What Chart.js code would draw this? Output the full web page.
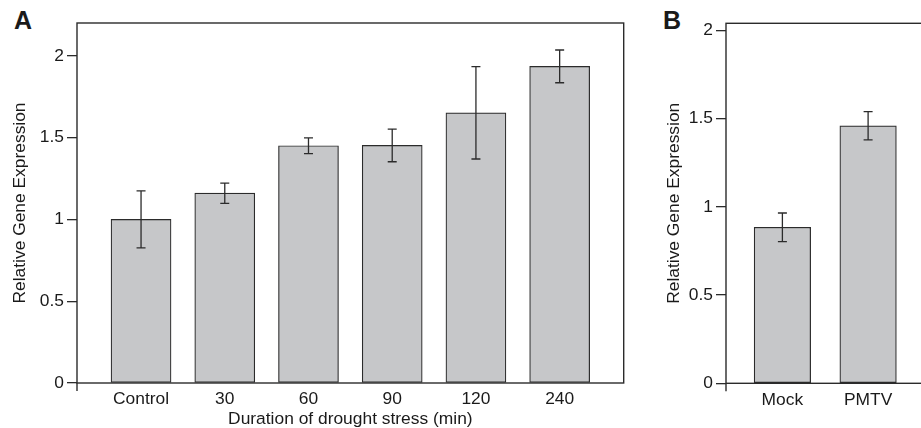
<!DOCTYPE html>
<html>
<head>
<meta charset="utf-8">
<script src="https://cdn.jsdelivr.net/npm/chart.js@4"></script>
<style>
    body { margin: 0; background: #fff; width: 921px; height: 428px; overflow: hidden; position: relative; }
    canvas { position: absolute; top: 0; }
    .panel { position: absolute; font: bold 25px "Liberation Sans", Arial, sans-serif; line-height: 25px; color: #1a1a1a; }
</style>
</head>
<body>
<div class="panel" style="left:14px; top:8px;">A</div>
<div class="panel" style="left:663px; top:8px;">B</div>
<canvas id="chartA" width="640" height="430" style="left:0px;"></canvas>
<canvas id="chartB" width="290" height="430" style="left:650px;"></canvas>
<script>
// panel A: drought stress time course
const categoriesA = ['Control', '30', '60', '90', '120', '240'];
const valuesA = [1.0, 1.16, 1.45, 1.452, 1.651, 1.935];
const errorsA = [0.174, 0.062, 0.048, 0.1, 0.282, 0.1];

// panel B: mock vs PMTV
const categoriesB = ['Mock', 'PMTV'];
const valuesB = [0.884, 1.459];
const errorsB = [0.081, 0.08];

const yTicks = [0, 0.5, 1, 1.5, 2];

const FONT = '"Liberation Sans", Arial, sans-serif';
const INK = '#2b2b2b';

// box around the plot, little stub under the y axis, and error bars
const framePlugin = {
    id: 'frame',
    afterDatasetsDraw(chart, args, opts) {
        const {ctx, chartArea, scales: {x, y}} = chart;
        ctx.save();
        ctx.strokeStyle = INK;
        ctx.lineWidth = 1.4;
        ctx.strokeRect(chartArea.left, chartArea.top, chartArea.right - chartArea.left, chartArea.bottom - chartArea.top);
        ctx.beginPath();
        ctx.moveTo(chartArea.left, chartArea.bottom);
        ctx.lineTo(chartArea.left, chartArea.bottom + 8);
        ctx.stroke();

        ctx.lineWidth = 1.3;
        opts.values.forEach((v, i) => {
            const px = x.getPixelForValue(i);
            const top = y.getPixelForValue(v + opts.errors[i]);
            const bot = y.getPixelForValue(v - opts.errors[i]);
            ctx.beginPath();
            ctx.moveTo(px, top);
            ctx.lineTo(px, bot);
            ctx.moveTo(px - 4.5, top);
            ctx.lineTo(px + 4.5, top);
            ctx.moveTo(px - 4.5, bot);
            ctx.lineTo(px + 4.5, bot);
            ctx.stroke();
        });
        ctx.restore();
    }
};

function makeChart(id, cats, values, errors, cfg) {
    const ctx = document.getElementById(id);
    return new Chart(ctx, {
        type: 'bar',
        data: {
            datasets: [{
                data: values.map((v, i) => ({x: i, y: v})),
                backgroundColor: '#c6c7c9',
                borderColor: INK,
                borderWidth: 1.2,
                borderSkipped: false,
                barThickness: cfg.barWidth
            }]
        },
        options: {
            responsive: false,
            animation: false,
            layout: { padding: cfg.padding },
            plugins: {
                legend: { display: false },
                tooltip: { enabled: false },
                frame: { values: values, errors: errors }
            },
            scales: {
                x: {
                    type: 'linear',
                    min: cfg.xMin,
                    max: cfg.xMax,
                    offset: false,
                    grid: { display: false, drawTicks: false, offset: false },
                    border: { display: false },
                    afterBuildTicks: (scale) => { scale.ticks = cats.map((c, i) => ({value: i})); },
                    afterFit: (scale) => { scale.height = cfg.xHeight; },
                    ticks: {
                        padding: 6,
                        color: '#1a1a1a',
                        font: { family: FONT, size: 17.4 },
                        callback: (v) => cats[v]
                    },
                    title: {
                        display: !!cfg.xTitle,
                        text: cfg.xTitle || '',
                        color: '#1a1a1a',
                        font: { family: FONT, size: 17.4 },
                        padding: 0
                    }
                },
                y: {
                    min: 0,
                    max: cfg.yMax,
                    grid: { drawOnChartArea: false, drawTicks: true, tickLength: 10, color: INK, lineWidth: 1.3 },
                    border: { display: false },
                    afterBuildTicks: (scale) => { scale.ticks = yTicks.map(v => ({value: v})); },
                    afterFit: (scale) => { scale.width = cfg.yWidth; },
                    ticks: {
                        padding: 3,
                        color: '#1a1a1a',
                        font: { family: FONT, size: 17.4 },
                        callback: (v) => String(v)
                    },
                    title: {
                        display: true,
                        text: 'Relative Gene Expression',
                        color: '#1a1a1a',
                        font: { family: FONT, size: 17.4 },
                        padding: { top: cfg.yTitlePad, bottom: 0 }
                    }
                }
            }
        },
        plugins: [framePlugin]
    });
}

makeChart('chartA', categoriesA, valuesA, errorsA, {
    barWidth: 60,
    padding: { left: 0, top: 23, right: 16.3, bottom: 0 },
    xMin: -0.765, xMax: 5.765,
    xHeight: 47,
    yMax: 2.2,
    yWidth: 77,
    yTitlePad: 10,
    xTitle: 'Duration of drought stress (min)'
});

makeChart('chartB', categoriesB, valuesB, errorsB, {
    barWidth: 56.5,
    padding: { left: 0, top: 23.3, right: 15.5, bottom: 0 },
    xMin: -0.658, xMax: 1.658,
    xHeight: 46.7,
    yMax: 2.04,
    yWidth: 76,
    yTitlePad: 13.4
});
</script>
</body>
</html>
